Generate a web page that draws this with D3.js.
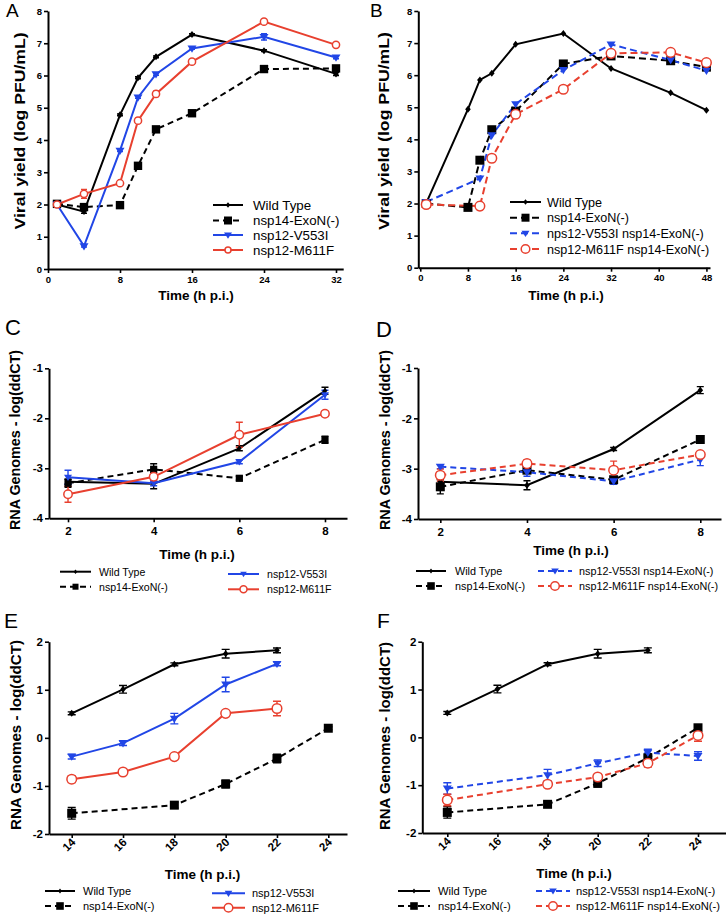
<!DOCTYPE html>
<html><head><meta charset="utf-8">
<script src="https://cdn.jsdelivr.net/npm/d3@7"></script>
<style>
html,body{margin:0;padding:0;background:#fff;}
svg{display:block;font-family:"Liberation Sans",Arial,sans-serif;}
</style></head>
<body>
<svg id="chart" width="726" height="916"></svg>
<script>
// ---------------- DATA ----------------
const seriesNames = ["Wild Type", "nsp14-ExoN(-)", "nsp12-V553I", "nsp12-M611F"];
const seriesNamesB = ["Wild Type", "nsp14-ExoN(-)", "nps12-V553I nsp14-ExoN(-)", "nsp12-M611F nsp14-ExoN(-)"];
const seriesNamesDF = ["Wild Type", "nsp14-ExoN(-)", "nsp12-V553I nsp14-ExoN(-)", "nsp12-M611F nsp14-ExoN(-)"];

const timeA = [1, 4, 8, 10, 12, 16, 24, 32];
const A_wt    = [2.00, 1.78, 4.78, 5.93, 6.58, 7.27, 6.77, 6.05];
const A_exon  = [2.02, 1.92, 1.98, 3.20, 4.33, 4.83, 6.20, 6.22];
const A_v553i = [2.00, 0.71, 3.67, 5.32, 6.04, 6.84, 7.20, 6.56];
const A_m611f = [2.00, 2.33, 2.66, 4.60, 5.43, 6.43, 7.67, 6.95];
const A_wt_err    = [0.03, 0.05, 0.03, 0.03, 0.03, 0.03, 0.03, 0.05];
const A_exon_err  = [0.03, 0.03, 0.03, 0.05, 0.03, 0.03, 0.03, 0.05];
const A_v553i_err = [0.08, 0.03, 0.03, 0.03, 0.03, 0.03, 0.10, 0.04];
const A_m611f_err = [0.05, 0.14, 0.03, 0.08, 0.08, 0.03, 0.03, 0.07];

const timeB = [1, 8, 10, 12, 16, 24, 32, 42, 48];
const B_wt    = [2.01, 4.94, 5.85, 6.06, 6.96, 7.30, 6.21, 5.45, 4.91];
const B_exon  = [2.00, 1.88, 3.35, 4.30, 4.88, 6.35, 6.60, 6.45, 6.25];
const B_v553i = [2.05, null, 2.78, 4.13, 5.10, 6.16, 6.96, 6.47, 6.14];
const B_m611f = [1.97, null, 1.92, 3.41, 4.78, 5.56, 6.68, 6.71, 6.39];
const B_m611f_err = [0.03, 0, 0.12, 0.03, 0.03, 0.03, 0.03, 0.03, 0.03];

const timeCD = [2, 4, 6, 8];
const C_wt    = [-3.27, -3.31, -2.60, -1.45];
const C_exon  = [-3.30, -3.02, -3.20, -2.43];
const C_v553i = [-3.18, -3.30, -2.87, -1.53];
const C_m611f = [-3.52, -3.17, -2.33, -1.91];
const C_wt_err    = [0.05, 0.10, 0.05, 0.07];
const C_exon_err  = [0.08, 0.11, 0.04, 0.07];
const C_v553i_err = [0.14, 0.05, 0.04, 0.09];
const C_m611f_err = [0.16, 0.08, 0.25, 0.05];

const D_wt    = [-3.26, -3.33, -2.61, -1.44];
const D_exon  = [-3.36, -3.03, -3.22, -2.42];
const D_v553i = [-2.96, -3.07, -3.25, -2.82];
const D_m611f = [-3.13, -2.90, -3.03, -2.72];
const D_wt_err    = [0.05, 0.09, 0.03, 0.07];
const D_exon_err  = [0.14, 0.05, 0.04, 0.07];
const D_v553i_err = [0.04, 0.08, 0.06, 0.12];
const D_m611f_err = [0.12, 0.08, 0.18, 0.06];

const timeEF = [14, 16, 18, 20, 22, 24];
const E_wt    = [0.51, 1.01, 1.53, 1.75, 1.82, null];
const E_exon  = [-1.57, null, -1.40, -0.96, -0.43, 0.20];
const E_v553i = [-0.39, -0.11, 0.40, 1.11, 1.54, null];
const E_m611f = [-0.86, -0.71, -0.39, 0.51, 0.61, null];
const E_wt_err    = [0.03, 0.08, 0.03, 0.09, 0.05, 0];
const E_exon_err  = [0.12, 0, 0.06, 0.08, 0.09, 0.03];
const E_v553i_err = [0.05, 0.05, 0.11, 0.15, 0.04, 0];
const E_m611f_err = [0.07, 0.06, 0.03, 0.05, 0.15, 0];

const F_wt    = [0.51, 1.01, 1.53, 1.75, 1.82, null];
const F_exon  = [-1.57, null, -1.40, -0.96, -0.43, 0.20];
const F_v553i = [-1.07, null, -0.79, -0.54, -0.32, -0.39];
const F_m611f = [-1.31, null, -0.98, -0.83, -0.54, 0.04];
const F_wt_err    = [0.03, 0.08, 0.03, 0.09, 0.05, 0];
const F_exon_err  = [0.12, 0, 0.06, 0.08, 0.09, 0.03];
const F_v553i_err = [0.12, 0, 0.12, 0.07, 0.07, 0.09];
const F_m611f_err = [0.12, 0, 0.04, 0.05, 0.08, 0.12];

const ticksA_x = [0, 8, 16, 24, 32];
const ticksB_x = [0, 8, 16, 24, 32, 40, 48];
const ticksAB_y = [0, 1, 2, 3, 4, 5, 6, 7, 8];
const ticksCD_x = [2, 4, 6, 8];
const ticksCD_y = [-4, -3, -2, -1];
const ticksEF_x = [14, 16, 18, 20, 22, 24];
const ticksEF_y = [-2, -1, 0, 1, 2];

// ---------------- STYLE ----------------
const BLACK = "#000", BLUE = "#2146e6", RED = "#e8402f";
const svg = d3.select("#chart");
const fmt = d => String(d);

function markerPath(type, r) {
  if (type === "diamond") return `M0,${-r}L${r*0.8},0L0,${r}L${-r*0.8},0Z`;
  if (type === "square") return `M${-r},${-r}H${r}V${r}H${-r}Z`;
  if (type === "tri") return `M${-r},${-r*0.65}L${r},${-r*0.65}L0,${r*0.95}Z`;
  return null;
}
function drawMarker(g, type, r, color, x, y) {
  if (type === "circle") {
    g.append("circle").attr("cx", x).attr("cy", y).attr("r", r)
      .attr("fill", "#fff").attr("stroke", color).attr("stroke-width", 1.5);
  } else {
    g.append("path").attr("d", markerPath(type, r)).attr("transform", `translate(${x},${y})`)
      .attr("fill", color);
  }
}

function panel(cfg) {
  const g = svg.append("g");
  const x = d3.scaleLinear().domain(cfg.xd).range(cfg.xr);
  const y = d3.scaleLinear().domain(cfg.yd).range(cfg.yr);

  // axes
  const xa = g.append("g").attr("transform", `translate(0,${cfg.yr[0]})`)
    .call(d3.axisBottom(x).tickValues(cfg.xt).tickFormat(fmt).tickSize(4).tickSizeOuter(0).tickPadding(cfg.xPad || 3));
  const ya = g.append("g").attr("transform", `translate(${cfg.xr[0]},0)`)
    .call(d3.axisLeft(y).tickValues(cfg.yt).tickFormat(fmt).tickSize(4).tickSizeOuter(0).tickPadding(2));
  [xa, ya].forEach(a => {
    a.select(".domain").attr("stroke", "#000").attr("stroke-width", 2);
    a.selectAll(".tick line").attr("stroke", "#000").attr("stroke-width", 1.6);
    a.selectAll(".tick text").attr("fill", "#000").attr("font-weight", "bold")
      .attr("font-size", cfg.tickFont).attr("font-family", "Liberation Sans, Arial, sans-serif");
  });
  if (cfg.rotX) {
    xa.selectAll(".tick text").attr("text-anchor", "end").attr("dy", null)
      .attr("y", 0).attr("transform", "translate(4,9) rotate(-45)");
  }

  // series
  cfg.series.forEach(s => {
    const pts = cfg.time.map((t, i) => ({t, v: s.vals[i], e: s.err ? s.err[i] : 0}))
      .filter(d => d.v !== null && d.v !== undefined);
    g.append("path").datum(pts)
      .attr("d", d3.line().x(d => x(d.t)).y(d => y(d.v)))
      .attr("fill", "none").attr("stroke", s.color).attr("stroke-width", cfg.lw || 2)
      .attr("stroke-dasharray", s.dash ? cfg.dash : null);
    pts.forEach(d => {
      if (d.e > 0) {
        const cx = x(d.t), y1 = y(d.v - d.e), y2 = y(d.v + d.e), cw = cfg.cap;
        g.append("path").attr("d", `M${cx},${y1}V${y2}M${cx-cw},${y1}H${cx+cw}M${cx-cw},${y2}H${cx+cw}`)
          .attr("stroke", s.color).attr("stroke-width", 1.4).attr("fill", "none");
      }
    });
  });
  cfg.series.forEach(s => {
    cfg.time.forEach((t, i) => {
      const v = s.vals[i];
      if (v === null || v === undefined) return;
      drawMarker(g, s.marker, cfg.ms[s.marker], s.color, x(t), y(v));
    });
  });

  // legend
  cfg.legend.forEach((L, i) => {
    const s = cfg.series[i];
    g.append("line").attr("x1", L.x1).attr("x2", L.x2).attr("y1", L.y).attr("y2", L.y)
      .attr("stroke", s.color).attr("stroke-width", cfg.lw || 2)
      .attr("stroke-dasharray", s.dash ? cfg.dash : null);
    drawMarker(g, s.marker, cfg.lms[s.marker], s.color, (L.x1 + L.x2) / 2, L.y);
    g.append("text").attr("x", L.tx).attr("y", L.y + cfg.legFont * 0.36)
      .attr("font-size", cfg.legFont).attr("fill", "#000").text(cfg.names[i]);
  });

  // titles
  g.append("text").attr("x", cfg.xlab[0]).attr("y", cfg.xlab[1]).attr("text-anchor", "middle")
    .attr("font-weight", "bold").attr("font-size", 13.5).text("Time (h p.i.)");
  g.append("text").attr("transform", `translate(${cfg.ylab[0]},${cfg.ylab[1]}) rotate(-90)`)
    .attr("text-anchor", "middle").attr("dy", "0.35em").attr("font-weight", "bold")
    .attr("font-size", cfg.ylabFont).attr("textLength", cfg.ylab[2]).attr("lengthAdjust", "spacingAndGlyphs")
    .text(cfg.ylabel);
  g.append("text").attr("x", cfg.letter[0]).attr("y", cfg.letter[1])
    .attr("font-size", cfg.letter[2]).attr("fill", "#000").text(cfg.id);
}

const msAB = {diamond: 3.5, square: 4.2, tri: 4.5, circle: 3.6};
const msB = {diamond: 3.5, square: 4.5, tri: 4.5, circle: 4.8};
const msC = {diamond: 3, square: 3.6, tri: 4, circle: 4.2};
const msD = {diamond: 3.5, square: 4.5, tri: 4.5, circle: 4.8};

// Panel A
panel({
  id: "A", letter: [6, 17, 19],
  xd: [0, 32.8], xr: [48, 343.2], yd: [0, 8], yr: [269, 11],
  xt: ticksA_x, yt: ticksAB_y, tickFont: 9.5, time: timeA,
  dash: "6,4", cap: 3,
  series: [
    {vals: A_wt, err: A_wt_err, color: BLACK, marker: "diamond"},
    {vals: A_exon, err: A_exon_err, color: BLACK, marker: "square", dash: true},
    {vals: A_v553i, err: A_v553i_err, color: BLUE, marker: "tri"},
    {vals: A_m611f, err: A_m611f_err, color: RED, marker: "circle"}
  ],
  ms: msAB, lms: {diamond: 2.8, square: 4, tri: 4, circle: 3},
  names: seriesNames, legFont: 13.3,
  legend: [{x1: 213, x2: 243, tx: 253, y: 205}, {x1: 213, x2: 243, tx: 253, y: 220.5},
           {x1: 213, x2: 243, tx: 253, y: 235}, {x1: 213, x2: 243, tx: 253, y: 250}],
  xlab: [196, 300], ylab: [20, 131, 197], ylabFont: 15, ylabel: "Viral yield (log PFU/mL)"
});

// Panel B
panel({
  id: "B", letter: [370, 17, 19],
  xd: [-0.33, 48.6], xr: [418.3, 710], yd: [0, 8], yr: [267.7, 11],
  xt: ticksB_x, yt: ticksAB_y, tickFont: 9.5, time: timeB,
  dash: "7,4", cap: 3,
  series: [
    {vals: B_wt, color: BLACK, marker: "diamond"},
    {vals: B_exon, color: BLACK, marker: "square", dash: true},
    {vals: B_v553i, color: BLUE, marker: "tri", dash: true},
    {vals: B_m611f, err: B_m611f_err, color: RED, marker: "circle", dash: true}
  ],
  ms: msB, lms: {diamond: 2.8, square: 4, tri: 4, circle: 4.3},
  names: seriesNamesB, legFont: 12.6,
  legend: [{x1: 510, x2: 541, tx: 547, y: 202}, {x1: 510, x2: 541, tx: 547, y: 217.7},
           {x1: 510, x2: 541, tx: 547, y: 233.3}, {x1: 510, x2: 541, tx: 547, y: 249}],
  xlab: [566, 300], ylab: [384, 131, 198], ylabFont: 15, ylabel: "Viral yield (log PFU/mL)"
});

// Panel C
panel({
  id: "C", letter: [5, 335, 22],
  xd: [1.556, 8.514], xr: [49, 347], yd: [-4, -1], yr: [518.3, 368.3],
  xt: ticksCD_x, yt: ticksCD_y, tickFont: 11.5, time: timeCD, xPad: 5,
  dash: "6,4", cap: 3.5,
  series: [
    {vals: C_wt, err: C_wt_err, color: BLACK, marker: "diamond"},
    {vals: C_exon, err: C_exon_err, color: BLACK, marker: "square", dash: true},
    {vals: C_v553i, err: C_v553i_err, color: BLUE, marker: "tri"},
    {vals: C_m611f, err: C_m611f_err, color: RED, marker: "circle"}
  ],
  ms: msC, lms: {diamond: 2.3, square: 3, tri: 3.3, circle: 3.5},
  names: seriesNames, legFont: 10.6,
  legend: [{x1: 60, x2: 91, tx: 99, y: 571.7}, {x1: 60, x2: 91, tx: 99, y: 586.7},
           {x1: 228, x2: 259, tx: 267, y: 574}, {x1: 228, x2: 259, tx: 267, y: 589.3}],
  xlab: [197, 559], ylab: [15, 440, 180], ylabFont: 14, ylabel: "RNA Genomes - log(ddCT)"
});

// Panel D
panel({
  id: "D", letter: [376, 337, 22],
  xd: [1.485, 8.478], xr: [418, 721], yd: [-4, -1], yr: [519, 368],
  xt: ticksCD_x, yt: ticksCD_y, tickFont: 11.5, time: timeCD, xPad: 5,
  dash: "6,4", cap: 3.5,
  series: [
    {vals: D_wt, err: D_wt_err, color: BLACK, marker: "diamond"},
    {vals: D_exon, err: D_exon_err, color: BLACK, marker: "square", dash: true},
    {vals: D_v553i, err: D_v553i_err, color: BLUE, marker: "tri", dash: true},
    {vals: D_m611f, err: D_m611f_err, color: RED, marker: "circle", dash: true}
  ],
  ms: msD, lms: {diamond: 2.5, square: 3.8, tri: 3.8, circle: 4.3},
  names: seriesNamesDF, legFont: 10.8,
  legend: [{x1: 416, x2: 446, tx: 455, y: 571}, {x1: 416, x2: 446, tx: 455, y: 586},
           {x1: 538, x2: 572, tx: 579, y: 571}, {x1: 538, x2: 572, tx: 579, y: 586}],
  xlab: [571, 555], ylab: [385, 440, 180], ylabFont: 14, ylabel: "RNA Genomes - log(ddCT)"
});

// Panel E
panel({
  id: "E", letter: [4, 628, 21],
  xd: [13.115, 24.729], xr: [49, 347], yd: [-2, 2], yr: [834, 641.7],
  xt: ticksEF_x, yt: ticksEF_y, tickFont: 11.5, time: timeEF, rotX: true,
  dash: "6,4", cap: 4,
  series: [
    {vals: E_wt, err: E_wt_err, color: BLACK, marker: "diamond"},
    {vals: E_exon, err: E_exon_err, color: BLACK, marker: "square", dash: true},
    {vals: E_v553i, err: E_v553i_err, color: BLUE, marker: "tri"},
    {vals: E_m611f, err: E_m611f_err, color: RED, marker: "circle"}
  ],
  ms: msD, lms: {diamond: 2.5, square: 3.8, tri: 3.8, circle: 4.3},
  names: seriesNames, legFont: 11,
  legend: [{x1: 45, x2: 75, tx: 83, y: 891}, {x1: 45, x2: 75, tx: 83, y: 906},
           {x1: 212, x2: 245, tx: 252, y: 893.3}, {x1: 212, x2: 245, tx: 252, y: 907.7}],
  xlab: [202.5, 879], ylab: [16, 735, 190], ylabFont: 15, ylabel: "RNA Genomes - log(ddCT)"
});

// Panel F
panel({
  id: "F", letter: [377, 628, 21],
  xd: [13.003, 25.117], xr: [422.3, 726], yd: [-2, 2], yr: [833, 641.7],
  xt: ticksEF_x, yt: ticksEF_y, tickFont: 11.5, time: timeEF, rotX: true,
  dash: "6,4", cap: 4,
  series: [
    {vals: F_wt, err: F_wt_err, color: BLACK, marker: "diamond"},
    {vals: F_exon, err: F_exon_err, color: BLACK, marker: "square", dash: true},
    {vals: F_v553i, err: F_v553i_err, color: BLUE, marker: "tri", dash: true},
    {vals: F_m611f, err: F_m611f_err, color: RED, marker: "circle", dash: true}
  ],
  ms: msD, lms: {diamond: 2.5, square: 3.8, tri: 3.8, circle: 4.3},
  names: seriesNamesDF, legFont: 11.2,
  legend: [{x1: 398, x2: 430, tx: 438, y: 891}, {x1: 398, x2: 430, tx: 438, y: 906},
           {x1: 536, x2: 570, tx: 576, y: 891}, {x1: 536, x2: 570, tx: 576, y: 906}],
  xlab: [574, 878], ylab: [385, 736, 188], ylabFont: 15, ylabel: "RNA Genomes - log(ddCT)"
});
</script>
</body></html>
